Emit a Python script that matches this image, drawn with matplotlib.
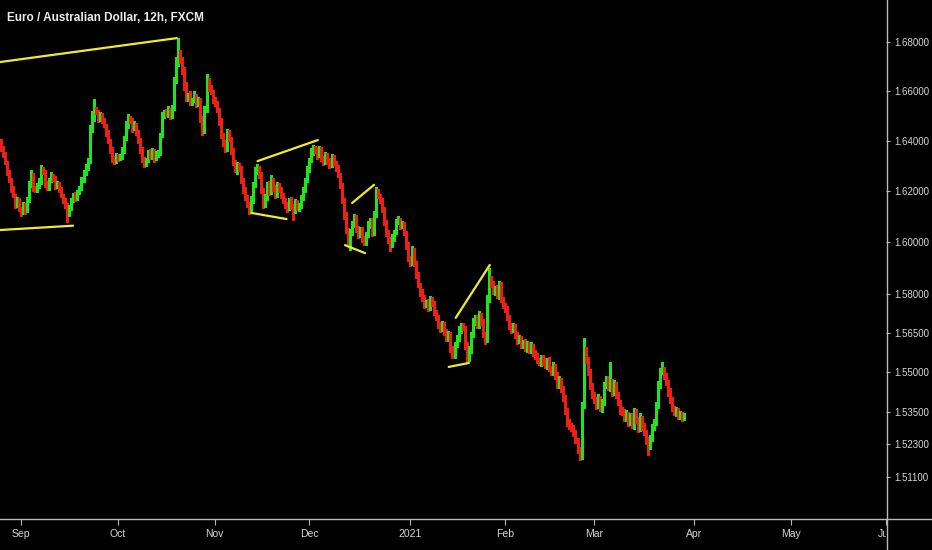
import numpy as np
import pandas as pd
import matplotlib
matplotlib.use("Agg")
import matplotlib.pyplot as plt
from matplotlib import font_manager as fm
from matplotlib.lines import Line2D
from matplotlib.ticker import FixedLocator, FormatStrFormatter, NullLocator
from matplotlib.transforms import Bbox, TransformedBbox

# narrow face if there is one, otherwise plain Liberation Sans a bit smaller
installed = {f.name for f in fm.fontManager.ttflist}
if 'Liberation Sans Narrow' in installed:
    plt.rcParams['font.family'] = ['Liberation Sans Narrow', 'DejaVu Sans']
    AX_FS, TITLE_FS = 8, 9.5
else:
    plt.rcParams['font.family'] = ['Liberation Sans', 'DejaVu Sans']
    AX_FS, TITLE_FS = 7, 8.5

title = "Euro / Australian Dollar, 12h, FXCM"
first_bar = "2020-08-25 00:00"
first_open = 16430  # pips

# 12h closes, in pips (1.6403 -> 16403)
closes = [
    16403, 16371, 16343, 16315, 16276, 16244, 16205, 16181, 16146, 16165,
    16134, 16118, 16146, 16126, 16165, 16225, 16264, 16213, 16205, 16221,
    16236, 16284, 16276, 16228, 16213, 16244, 16260, 16252, 16221, 16228,
    16205, 16185, 16165, 16146, 16118, 16134, 16165, 16181, 16173, 16197,
    16213, 16244, 16276, 16292, 16323, 16443, 16491, 16524, 16516, 16491,
    16503, 16483, 16463, 16435, 16403, 16363, 16331, 16323, 16343, 16331,
    16339, 16363, 16411, 16463, 16491, 16483, 16451, 16467, 16435, 16403,
    16363, 16331, 16311, 16323, 16355, 16339, 16363, 16331, 16347, 16355,
    16423, 16503, 16516, 16508, 16524, 16499, 16532, 16645, 16718, 16746,
    16726, 16686, 16625, 16572, 16584, 16556, 16564, 16580, 16548, 16564,
    16491, 16443, 16524, 16645, 16613, 16597, 16564, 16548, 16524, 16475,
    16423, 16395, 16371, 16435, 16411, 16363, 16315, 16284, 16304, 16292,
    16244, 16205, 16177, 16146, 16126, 16165, 16225, 16276, 16292, 16264,
    16205, 16146, 16173, 16225, 16197, 16244, 16213, 16185, 16225, 16205,
    16185, 16165, 16146, 16134, 16165, 16142, 16126, 16154, 16134, 16146,
    16173, 16205, 16244, 16284, 16323, 16355, 16371, 16363, 16343, 16363,
    16331, 16315, 16343, 16323, 16304, 16331, 16311, 16292, 16264, 16225,
    16165, 16106, 16047, 16008, 16039, 16067, 16094, 16055, 16028, 16047,
    16016, 16000, 16028, 16067, 16086, 16039, 16106, 16197, 16181, 16165,
    16126, 16079, 16039, 16008, 15992, 16016, 16039, 16079, 16086, 16063,
    16071, 16039, 15988, 15938, 15922, 15969, 15922, 15872, 15834, 15807,
    15784, 15757, 15768, 15745, 15776, 15765, 15730, 15707, 15680, 15669,
    15684, 15653, 15630, 15642, 15592, 15565, 15603, 15630, 15661, 15677,
    15669, 15603, 15554, 15584, 15642, 15692, 15707, 15677, 15719, 15692,
    15642, 15622, 15776, 15853, 15838, 15807, 15815, 15792, 15834, 15776,
    15757, 15738, 15707, 15680, 15661, 15677, 15642, 15622, 15630, 15603,
    15614, 15592, 15607, 15584, 15599, 15576, 15561, 15546, 15539, 15554,
    15539, 15527, 15546, 15516, 15501, 15524, 15490, 15452, 15471, 15441,
    15403, 15358, 15313, 15298, 15291, 15276, 15246, 15209, 15187, 15377,
    15576, 15546, 15501, 15452, 15414, 15395, 15377, 15403, 15365, 15388,
    15452, 15471, 15441, 15463, 15426, 15448, 15414, 15388, 15358, 15350,
    15328, 15343, 15313, 15335, 15302, 15350, 15320, 15291, 15328, 15298,
    15276, 15246, 15224, 15254, 15291, 15313, 15377, 15452, 15501, 15509,
    15486, 15463, 15426, 15395, 15365, 15350, 15358, 15335, 15343, 15328, 15339,
]

# wick length above / below the body, in pips
upper_wick = [
    10, 6, 8, 12, 5, 9, 7, 14, 6, 10,
    8, 5, 12, 7, 10, 14, 20, 6, 9, 12,
    15, 18, 10, 6, 12, 9, 14, 8, 6, 11,
    7, 10, 5, 9, 6, 12, 8, 10, 14, 7,
    9, 12, 8, 16, 10, 20, 28, 45, 12, 8,
    14, 7, 10, 6, 9, 5, 12, 8, 10, 6,
    9, 12, 10, 18, 15, 10, 8, 14, 6, 9,
    8, 12, 6, 10, 9, 14, 7, 5, 11, 8,
    10, 12, 8, 10, 15, 9, 12, 14, 20, 70,
    20, 14, 10, 12, 8, 16, 10, 22, 9, 12,
    8, 10, 14, 25, 10, 12, 8, 14, 10, 6,
    16, 10, 8, 14, 9, 6, 10, 8, 12, 7,
    9, 6, 10, 8, 12, 14, 10, 18, 16, 8,
    12, 9, 15, 10, 14, 18, 8, 10, 12, 9,
    10, 7, 9, 12, 8, 10, 6, 14, 9, 8,
    10, 12, 9, 14, 10, 15, 14, 10, 12, 16,
    12, 8, 14, 10, 9, 16, 12, 8, 10, 7,
    9, 6, 10, 8, 12, 14, 16, 10, 8, 12,
    10, 8, 12, 14, 10, 9, 14, 20, 10, 8,
    6, 10, 8, 9, 12, 14, 10, 12, 16, 8,
    10, 8, 6, 12, 9, 14, 8, 6, 10, 7,
    9, 12, 8, 10, 14, 12, 8, 6, 9, 10,
    12, 8, 10, 14, 9, 8, 12, 10, 14, 12,
    10, 8, 12, 14, 10, 16, 12, 10, 14, 8,
    10, 12, 18, 45, 15, 12, 14, 20, 16, 10,
    12, 8, 14, 10, 9, 12, 8, 10, 12, 9,
    8, 12, 10, 9, 14, 8, 10, 12, 8, 10,
    10, 14, 8, 12, 9, 16, 8, 10, 14, 8,
    6, 10, 8, 12, 10, 9, 8, 6, 10, 12,
    55, 18, 12, 10, 8, 12, 10, 16, 8, 10,
    12, 16, 14, 75, 10, 22, 14, 10, 8, 12,
    10, 14, 8, 12, 10, 16, 12, 10, 18, 9,
    10, 8, 12, 9, 14, 10, 12, 14, 16, 30,
    12, 10, 8, 14, 10, 8, 12, 9, 10, 8, 6,
]
lower_wick = [
    6, 10, 8, 7, 12, 9, 10, 6, 14, 8,
    12, 15, 8, 16, 10, 6, 9, 12, 8, 10,
    8, 6, 10, 12, 9, 8, 6, 10, 12, 8,
    10, 8, 12, 14, 40, 16, 10, 8, 12, 9,
    10, 8, 6, 12, 9, 10, 8, 12, 10, 14,
    10, 12, 8, 14, 10, 12, 16, 14, 10, 12,
    8, 10, 12, 8, 10, 12, 14, 9, 10, 12,
    10, 14, 15, 10, 8, 12, 10, 14, 8, 10,
    12, 8, 10, 9, 12, 10, 8, 10, 12, 14,
    10, 16, 20, 14, 10, 12, 14, 10, 12, 8,
    14, 20, 10, 8, 12, 10, 14, 9, 10, 12,
    10, 14, 16, 12, 10, 14, 12, 10, 16, 12,
    10, 12, 14, 10, 15, 12, 10, 8, 9, 12,
    14, 12, 10, 9, 12, 10, 14, 12, 10, 8,
    12, 10, 14, 16, 10, 12, 40, 12, 10, 14,
    12, 10, 8, 9, 10, 8, 12, 10, 14, 9,
    10, 12, 9, 14, 12, 10, 8, 12, 10, 14,
    12, 14, 10, 16, 40, 12, 10, 14, 12, 10,
    14, 12, 10, 9, 12, 14, 10, 8, 10, 12,
    10, 12, 14, 12, 25, 12, 10, 8, 10, 12,
    10, 12, 14, 12, 16, 10, 14, 12, 10, 16,
    12, 14, 10, 12, 8, 12, 14, 10, 12, 16,
    14, 10, 12, 10, 14, 12, 10, 8, 10, 12,
    10, 14, 20, 12, 10, 8, 12, 10, 8, 12,
    10, 14, 8, 10, 12, 10, 14, 8, 12, 10,
    12, 10, 8, 14, 12, 10, 12, 14, 10, 12,
    10, 12, 14, 10, 12, 14, 10, 12, 10, 14,
    12, 10, 14, 12, 10, 12, 14, 10, 12, 14,
    12, 14, 16, 10, 12, 14, 12, 10, 15, 10,
    10, 12, 10, 14, 12, 10, 14, 12, 10, 14,
    10, 12, 8, 10, 14, 12, 10, 12, 14, 10,
    12, 10, 14, 12, 10, 14, 12, 16, 10, 14,
    12, 14, 35, 12, 10, 8, 10, 12, 10, 8,
    10, 12, 14, 10, 12, 10, 14, 12, 10, 12, 8,
]

price_ticks = [1.68, 1.66, 1.64, 1.62, 1.60, 1.58, 1.565, 1.55, 1.535, 1.523, 1.511]
month_starts = ["2020-09-01", "2020-10-01", "2020-11-01", "2020-12-01", "2021-01-01",
                "2021-02-01", "2021-03-01", "2021-04-01", "2021-05-01", "2021-06-01"]
month_labels = ["Sep", "Oct", "Nov", "Dec", "2021", "Feb", "Mar", "Apr", "May", "Jun"]

# drawn trend lines: (bar index start, end), (price start, end)
trend_bars = [(0.5, 88.3), (0.5, 36.8), (128.3, 158.2), (125.3, 142.7),
              (175.2, 186.1), (171.7, 181.6), (226.6, 243.5), (223.1, 233.1)]
trend_prices = [(1.6718, 1.6816), (1.6047, 1.6064), (1.6319, 1.6403), (1.6114, 1.6090),
                (1.6153, 1.6225), (1.5988, 1.5957), (1.5707, 1.5911), (1.5520, 1.5535)]

BG = "black"
UP = "#1ee61e"
DOWN = "#f01e14"
TXT = "#d6d6d6"
AXC = "#b8b8b8"
W, H = 932, 550

# bar clock: 12h bars, no Saturday, Sunday only afternoon
times = pd.date_range(first_bar, "2021-06-08", freq="12h")
keep = (times.dayofweek != 5) & ~((times.dayofweek == 6) & (times.hour == 0))
times = times[keep]
tick_pos = [int(np.searchsorted(times, pd.Timestamp(m))) for m in month_starts]

c = np.array(closes) / 1e4
o = np.r_[first_open / 1e4, c[:-1]]
hi = np.maximum(o, c) + np.array(upper_wick) / 1e4
lo = np.minimum(o, c) - np.array(lower_wick) / 1e4
x = np.arange(len(c))
col = np.where(c >= o, UP, DOWN)

fig = plt.figure(figsize=(W / 100, H / 100), dpi=100, facecolor=BG)
ax = fig.add_axes([0, 31 / H, 886 / W, 519 / H], facecolor=BG)

ax.vlines(x, lo, hi, colors=col, linewidth=0.75, antialiased=False)
body = np.maximum(np.abs(c - o), 0.0002)
ax.bar(x, body, bottom=np.minimum(o, c), width=0.75, color=col, linewidth=0, antialiased=False)

for bb, pp in zip(trend_bars, trend_prices):
    ax.plot(bb, pp, color="#f2ea2a", linewidth=1.6, solid_capstyle="round")

ax.set_yscale("log")
ax.set_ylim(1.4955, 1.6973)
ax.yaxis.set_major_locator(FixedLocator(price_ticks))
ax.yaxis.set_major_formatter(FormatStrFormatter("%.5f"))
ax.yaxis.set_minor_locator(NullLocator())
ax.yaxis.tick_right()
ax.tick_params(axis="y", colors=AXC, labelcolor=TXT, labelsize=AX_FS, length=3, width=0.8, pad=3)

px_per_bar = (886 - 21) / (tick_pos[-1] - tick_pos[0])
ax.set_xlim(tick_pos[0] - 21 / px_per_bar, tick_pos[-1])
ax.set_xticks(tick_pos)
ax.set_xticklabels([])
ax.tick_params(axis="x", colors=AXC, length=4, width=0.8)

clip = TransformedBbox(Bbox([[0, -1], [1, 1]]), ax.transAxes)
for p, lab in zip(tick_pos, month_labels):
    t = ax.text(p, -15 / 519, lab, transform=ax.get_xaxis_transform(), ha="center", va="center",
                color=TXT, fontsize=AX_FS + 0.5, clip_on=True)
    t.set_clip_box(clip)

for s in ax.spines.values():
    s.set_visible(False)
fig.add_artist(Line2D([886.5 / W] * 2, [0, 1], transform=fig.transFigure, color=AXC, linewidth=1))
fig.add_artist(Line2D([0, 1], [31 / H] * 2, transform=fig.transFigure, color=AXC, linewidth=1))

fig.text(7 / W, 1 - 18 / H, title, ha="left", va="center", color="#ececec",
         fontsize=TITLE_FS, fontweight="bold")

fig.savefig("out.png", dpi=100, facecolor=BG)
